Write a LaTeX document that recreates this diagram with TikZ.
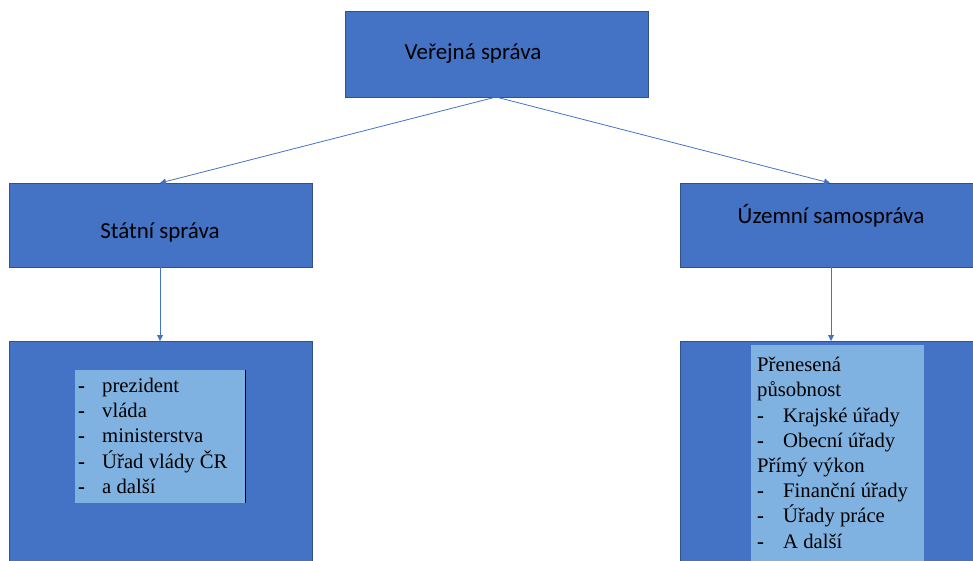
\documentclass[tikz,border=0pt]{standalone}
\usepackage{fontspec}
\setmainfont{Liberation Serif}
\newfontfamily\calib{Carlito}
\usetikzlibrary{arrows.meta}
\definecolor{boxblue}{HTML}{4472C4}
\definecolor{boxedge}{HTML}{2F528F}
\definecolor{lightblue}{HTML}{7FB2E0}
\newcommand{\dsh}[1]{\makebox[#1][l]{\textbf{-}}}
\tikzset{
  bluebox/.style={draw=boxedge, fill=boxblue, line width=0.8pt},
  innerbox/.style={fill=lightblue},
  conn/.style={draw=boxblue, line width=0.8pt, -{Triangle[length=6pt,width=6pt]}},
  headtxt/.style={font=\calib\fontsize{23}{27}\selectfont, text=black},
  listtxt/.style={font=\fontsize{20.7}{25.2}\selectfont, text=black, align=left, anchor=north west, inner sep=0pt}
}
\begin{document}
\begin{tikzpicture}[x=1pt,y=-1pt]
\useasboundingbox (0,0) rectangle (973,561);
\clip (0,0) rectangle (973,561);
% boxes
\draw[bluebox] (345,11) rectangle (648,97);
\coordinate (topB) at (496,97);
\node[headtxt] (ver) at (473,54) {Veřejná správa};

\draw[bluebox] (9,183) rectangle (312,267);
\coordinate (lTop) at (160,183);
\coordinate (lBot) at (160,267);
\node[headtxt] (stat) at (160,232) {Státní správa};

\draw[bluebox] (680,183) rectangle (980,267);
\coordinate (rTop) at (830,183);
\coordinate (rBot) at (831,267);
\node[headtxt] (uzem) at (831,216) {Územní samospráva};

\draw[bluebox] (9,341) rectangle (312,570);
\coordinate (lbTop) at (160,341);
\fill[innerbox] (75,370) rectangle (245,503);
\draw[black, line width=0.8pt] (245,370) -- (245,503);
\node[listtxt] (llist) at (78,378) {%
\dsh{24pt}prezident\\
\dsh{24pt}vláda\\
\dsh{24pt}ministerstva\\
\dsh{24pt}Úřad vlády ČR\\
\dsh{24pt}a další};

\draw[bluebox] (680,341) rectangle (980,570);
\coordinate (rbTop) at (831,341);
\fill[innerbox] (751,345) rectangle (924,570);
\node[listtxt] (rlist) at (757,357) {%
Přenesená\\
působnost\\
\dsh{26pt}Krajské úřady\\
\dsh{26pt}Obecní úřady\\
Přímý výkon\\
\dsh{26pt}Finanční úřady\\
\dsh{26pt}Úřady práce\\
\dsh{26pt}A další};

% connectors
\draw[conn] (topB) -- (lTop);
\draw[conn] (topB) -- (rTop);
\draw[conn] (lBot) -- (lbTop);
\draw[conn] (rBot) -- (rbTop);
\end{tikzpicture}
\end{document}
